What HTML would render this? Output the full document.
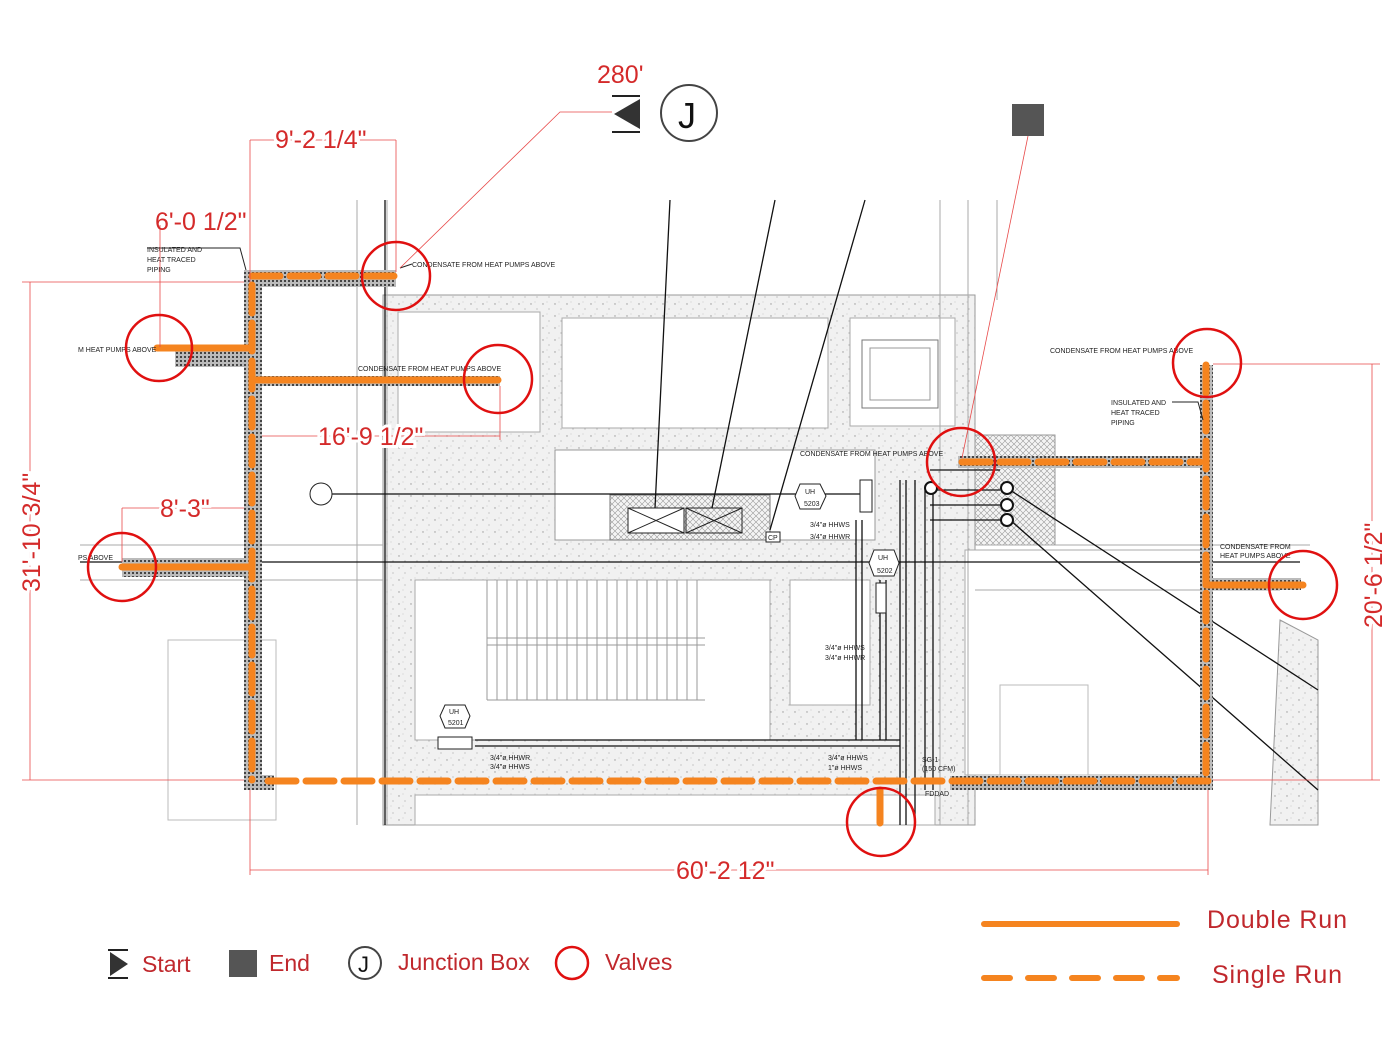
<!DOCTYPE html>
<html><head><meta charset="utf-8"><style>
html,body{margin:0;padding:0;background:#fff;}
svg{display:block;font-family:"Liberation Sans",sans-serif;}
</style></head><body>
<svg width="1400" height="1049" viewBox="0 0 1400 1049" xmlns="http://www.w3.org/2000/svg">
<defs>
<pattern id="hatch" width="4" height="4" patternUnits="userSpaceOnUse"><rect width="4" height="4" fill="#bbb"/><rect width="2" height="2" fill="#444"/></pattern>
<pattern id="conc" width="12" height="12" patternUnits="userSpaceOnUse"><rect width="12" height="12" fill="#f1f1f1"/><circle cx="3" cy="4" r=".7" fill="#999"/><circle cx="9" cy="9" r=".6" fill="#aaa"/><circle cx="7" cy="2" r=".5" fill="#bbb"/></pattern>
<pattern id="xh" width="6" height="6" patternUnits="userSpaceOnUse"><rect width="6" height="6" fill="#f4f4f4"/><path d="M0 0L6 6M6 0L0 6" stroke="#999" stroke-width=".6"/></pattern>
</defs>

<rect x="383" y="295" width="592" height="530" fill="url(#conc)" stroke="#999"/>
<rect x="398" y="312" width="142" height="120" fill="#fff" stroke="#aaa"/>
<rect x="562" y="318" width="266" height="110" fill="#fff" stroke="#aaa"/>
<rect x="850" y="318" width="105" height="108" fill="#fff" stroke="#aaa"/>
<rect x="862" y="340" width="76" height="68" fill="#fff" stroke="#777"/>
<rect x="870" y="348" width="60" height="52" fill="#fff" stroke="#999"/>
<rect x="555" y="450" width="320" height="90" fill="#fff" stroke="#999"/>
<rect x="610" y="495" width="160" height="45" fill="url(#xh)" stroke="#777"/>
<rect x="628" y="508" width="56" height="25" fill="#fff" stroke="#222"/>
<path d="M628 508L684 533M684 508L628 533M686 508L742 533M742 508L686 533" stroke="#222"/>
<rect x="686" y="508" width="56" height="25" fill="none" stroke="#222"/>
<rect x="975" y="435" width="80" height="110" fill="url(#xh)" stroke="#999"/>
<rect x="415" y="580" width="355" height="160" fill="#fff" stroke="#aaa"/>
<g stroke="#999" stroke-width="1">
<path d="M487 580V700M497 580V700M507 580V700M517 580V700M527 580V700M537 580V700M547 580V700M557 580V700M567 580V700M577 580V700M587 580V700M597 580V700M607 580V700M617 580V700M627 580V700M637 580V700M647 580V700M657 580V700M667 580V700M677 580V700M687 580V700M697 580V700"/>
<path d="M487 638H705M487 645H705M487 700H705"/>
</g>
<rect x="790" y="580" width="80" height="125" fill="#fff" stroke="#aaa"/>
<rect x="965" y="550" width="240" height="225" fill="#fff" stroke="#aaa"/>
<rect x="1000" y="685" width="88" height="90" fill="#fff" stroke="#bbb"/>
<rect x="415" y="795" width="520" height="30" fill="#fff" stroke="#aaa"/>
<rect x="168" y="640" width="108" height="180" fill="none" stroke="#bbb"/>
<path d="M1280 620L1318 640L1318 825L1270 825Z" fill="url(#conc)" stroke="#999"/>

<g stroke="#aaa" stroke-width="1" fill="none">
<path d="M357 200V825M387 200V825M940 200V825M968 200V825M997 200V300"/>
<path d="M80 545H383M80 580H383M975 545H1310M975 590H1280"/>
</g>
<g stroke="#111" stroke-width="1.3" fill="none">
<path d="M385 200V825"/>
<path d="M320 494H870M80 562H1300"/>
<path d="M670 200L655 508M775 200L712 508M865 200L770 530"/>
<path d="M1010 490L1318 690M1010 520L1318 790"/>
<path d="M475 740H900M475 746H900M856 520V740M862 520V740M880 580V740M886 580V740"/>
<path d="M900 480V825M906 480V825M915 480V825M925 490V790M933 490V790"/>
<path d="M930 470H1000M930 490H1000M930 505H1000M930 520H1000"/>
</g>
<circle cx="1007" cy="488" r="6" fill="#fff" stroke="#111" stroke-width="2"/>
<circle cx="1007" cy="505" r="6" fill="#fff" stroke="#111" stroke-width="2"/>
<circle cx="1007" cy="520" r="6" fill="#fff" stroke="#111" stroke-width="2"/>
<circle cx="931" cy="488" r="6" fill="#fff" stroke="#111" stroke-width="2"/>
<rect x="860" y="480" width="12" height="32" fill="#fff" stroke="#222"/>
<rect x="438" y="737" width="34" height="12" fill="#fff" stroke="#222"/>
<rect x="876" y="583" width="10" height="30" fill="#fff" stroke="#222"/>
<polygon points="445,705 465,705 470,716 465,728 445,728 440,716" fill="#fff" stroke="#222"/>
<polygon points="800,484 820,484 826,496 820,509 800,509 795,496" fill="#fff" stroke="#222"/>
<polygon points="874,550 894,550 899,563 894,576 874,576 869,563" fill="#fff" stroke="#222"/>
<circle cx="321" cy="494" r="11" fill="#fff" stroke="#222"/>
<rect x="766" y="532" width="14" height="10" fill="#fff" stroke="#222"/>

<g fill="url(#hatch)">
<rect x="244" y="270" width="152" height="17"/>
<rect x="244" y="270" width="18" height="520"/>
<rect x="175" y="350" width="70" height="17"/>
<rect x="252" y="376" width="248" height="10"/>
<rect x="122" y="558" width="122" height="19"/>
<rect x="244" y="775" width="30" height="15"/>
<rect x="950" y="776" width="263" height="14"/>
<rect x="1200" y="365" width="13" height="425"/>
<rect x="958" y="456" width="242" height="12"/>
<rect x="1206" y="578" width="95" height="12"/>
</g>

<g stroke="#f5841f" stroke-width="7" fill="none" stroke-linecap="round">
<path d="M157 348H252M252 380H498M122 567H252M1206 585H1303M880 790V823"/>
<g stroke-dasharray="28 10">
<path d="M252 276H396"/>
<path d="M252 285V780"/>
<path d="M268 781H1210"/>
<path d="M1206 365V781"/>
<path d="M962 462H1200"/>
</g>
</g>

<g font-size="7" fill="#222">
<text x="147" y="252">INSULATED AND</text><text x="147" y="262">HEAT TRACED</text><text x="147" y="272">PIPING</text>
<text x="412" y="267">CONDENSATE FROM HEAT PUMPS ABOVE</text>
<text x="78" y="352">M HEAT PUMPS ABOVE</text>
<text x="358" y="371">CONDENSATE FROM HEAT PUMPS ABOVE</text>
<text x="78" y="560">PS ABOVE</text>
<text x="1050" y="353">CONDENSATE FROM HEAT PUMPS ABOVE</text>
<text x="1111" y="405">INSULATED AND</text><text x="1111" y="415">HEAT TRACED</text><text x="1111" y="425">PIPING</text>
<text x="800" y="456">CONDENSATE FROM HEAT PUMPS ABOVE</text>
<text x="1220" y="549">CONDENSATE FROM</text><text x="1220" y="558">HEAT PUMPS ABOVE</text>
<text x="810" y="527">3/4"ø HHWS</text><text x="810" y="539">3/4"ø HHWR</text>
<text x="825" y="650">3/4"ø HHWS</text><text x="825" y="660">3/4"ø HHWR</text>
<text x="490" y="760">3/4"ø HHWR</text><text x="490" y="769">3/4"ø HHWS</text>
<text x="828" y="760">3/4"ø HHWS</text><text x="828" y="770">1"ø HHWS</text>
<text x="922" y="762">SG-1</text><text x="922" y="771">(150 CFM)</text>
<text x="925" y="796">FDDAD</text>
<text x="805" y="494">UH</text><text x="804" y="506">5203</text>
<text x="878" y="560">UH</text><text x="877" y="573">5202</text>
<text x="449" y="714">UH</text><text x="448" y="725">5201</text>
<text x="768" y="540">CP</text>
</g>
<path d="M147 248H240L246 270M400 268L412 264M1172 402H1198L1203 420" stroke="#222" fill="none"/>

<g stroke="#e84a4a" stroke-width=".8" fill="none">
<path d="M250 140V282M396 140V272M250 140H396"/>
<path d="M160 225V347"/>
<path d="M22 282H244M22 780H244M30 282V780"/>
<path d="M262 436H500M500 386V440"/>
<path d="M122 508H244M122 508V562"/>
<path d="M1213 364H1380M1213 780H1380M1372 364V780"/>
<path d="M250 790V875M1208 790V875M250 870H1208"/>
<path d="M400 268L560 112H612"/>
<path d="M962 458L1028 136"/>
</g>

<g fill="#d42a2a" font-size="25">
<text x="597" y="83">280'</text>
<text x="275" y="148" fill="#fff" stroke="#fff" stroke-width="6">9'-2 1/4"</text>
<text x="275" y="148">9'-2 1/4"</text>
<text x="155" y="230">6'-0 1/2"</text>
<text x="318" y="445" fill="#fff" stroke="#fff" stroke-width="6">16'-9 1/2"</text>
<text x="318" y="445">16'-9 1/2"</text>
<text x="160" y="517" fill="#fff" stroke="#fff" stroke-width="6">8'-3"</text>
<text x="160" y="517">8'-3"</text>
<text x="676" y="879" fill="#fff" stroke="#fff" stroke-width="6">60'-2 12"</text>
<text x="676" y="879">60'-2 12"</text>
<text transform="translate(40,592) rotate(-90)" fill="#fff" stroke="#fff" stroke-width="6">31'-10 3/4"</text>
<text transform="translate(40,592) rotate(-90)">31'-10 3/4"</text>
<text transform="translate(1382,628) rotate(-90)" fill="#fff" stroke="#fff" stroke-width="6">20'-6 1/2"</text>
<text transform="translate(1382,628) rotate(-90)">20'-6 1/2"</text>
</g>

<g stroke="#e01010" stroke-width="2.5" fill="none">
<circle cx="396" cy="276" r="34"/>
<circle cx="159" cy="348" r="33"/>
<circle cx="498" cy="379" r="34"/>
<circle cx="122" cy="567" r="34"/>
<circle cx="961" cy="462" r="34"/>
<circle cx="1207" cy="363" r="34"/>
<circle cx="1303" cy="585" r="34"/>
<circle cx="881" cy="822" r="34"/>
</g>

<path d="M612 96H640M612 132H640" stroke="#222" stroke-width="2"/>
<polygon points="614,114 640,99 640,129" fill="#333"/>
<circle cx="689" cy="113" r="28" fill="#fff" stroke="#444" stroke-width="2"/>
<text x="678" y="128" font-size="36" fill="#111">J</text>
<rect x="1012" y="104" width="32" height="32" fill="#555"/>

<path d="M108 950H128M108 978H128" stroke="#222" stroke-width="2"/>
<polygon points="110,952 128,964 110,976" fill="#333"/>
<text x="142" y="972" font-size="23" fill="#c0282d">Start</text>
<rect x="229" y="950" width="28" height="27" fill="#555"/>
<text x="269" y="971" font-size="23" fill="#c0282d">End</text>
<circle cx="365" cy="963" r="16" fill="#fff" stroke="#444" stroke-width="2"/>
<text x="358" y="972" font-size="22" fill="#111">J</text>
<text x="398" y="970" font-size="23" fill="#c0282d">Junction Box</text>
<circle cx="572" cy="963" r="16" fill="none" stroke="#e01010" stroke-width="2.5"/>
<text x="605" y="970" font-size="23" fill="#c0282d">Valves</text>
<path d="M984 924H1177" stroke="#f5841f" stroke-width="6" stroke-linecap="round"/>
<path d="M984 978H1177" stroke="#f5841f" stroke-width="6" stroke-linecap="round" stroke-dasharray="26 18"/>
<text x="1207" y="928" font-size="25" fill="#c0282d" textLength="140">Double Run</text>
<text x="1212" y="983" font-size="25" fill="#c0282d" textLength="130">Single Run</text>
</svg>
</body></html>
